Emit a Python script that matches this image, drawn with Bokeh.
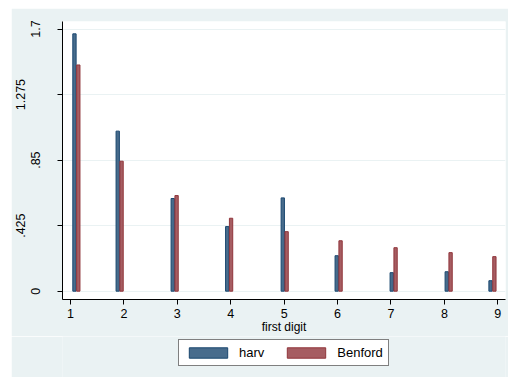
from bokeh.plotting import figure
from bokeh.models import (Range1d, FixedTicker, LinearAxis, Legend, LegendItem,
                          ColumnDataSource, Spacer)
from bokeh.layouts import column, row
from bokeh.embed import file_html
from bokeh.resources import INLINE
import numpy as np

# ---- data ----
digits = [1, 2, 3, 4, 5, 6, 7, 8, 9]
# group positions on the x scale
group_pos = [1.11, 1.92, 2.95, 3.97, 5.01, 6.02, 7.05, 8.08, 8.90]
harv = [1.669, 1.038, 0.601, 0.419, 0.605, 0.230, 0.120, 0.126, 0.068]
benford = [1.467, 0.843, 0.620, 0.473, 0.386, 0.327, 0.282, 0.250, 0.224]
y_ticks = [0, 0.425, 0.85, 1.275, 1.7]
y_tick_labels = ["0", ".425", ".85", "1.275", "1.7"]
x_ticks = digits
x_title = "first digit"
series_names = ["harv", "Benford"]

FONT = "Liberation Sans"
BG = "#EAF2F3"
BLUE_LINE, BLUE_FILL = "#1A476F", "#486C8C"
RED_LINE, RED_FILL = "#90353B", "#A65D62"

bw = 0.062
gp = np.array(group_pos)
src = ColumnDataSource(dict(xh=gp - bw / 2 - 0.005, xb=gp + bw / 2 + 0.005,
                            harv=harv, benford=benford))

p = figure(width=497, height=328, output_backend="svg", toolbar_location=None,
           x_range=Range1d(0.85, 9.144), y_range=Range1d(-0.054, 1.749),
           min_border_left=0, min_border_right=3, min_border_top=13,
           min_border_bottom=37)
p.border_fill_color = BG
p.background_fill_color = "white"
p.outline_line_color = None

r1 = p.vbar(x="xh", top="harv", bottom=0, width=bw, source=src,
            fill_color=BLUE_FILL, line_color=BLUE_LINE, line_width=1)
r2 = p.vbar(x="xb", top="benford", bottom=0, width=bw, source=src,
            fill_color=RED_FILL, line_color=RED_LINE, line_width=1)

# grid
p.xgrid.visible = False
p.ygrid.ticker = FixedTicker(ticks=y_ticks)
p.ygrid.grid_line_color = BG
p.ygrid.grid_line_width = 1

# x axis
xa = p.xaxis[0]
xa.ticker = FixedTicker(ticks=x_ticks)
xa.axis_label = x_title
xa.axis_label_text_font = FONT
xa.axis_label_text_font_style = "normal"
xa.axis_label_text_font_size = "12px"
xa.axis_label_standoff = -1
xa.major_label_text_font = FONT
xa.major_label_text_font_size = "12.5px"
xa.major_label_standoff = 4
xa.major_tick_out = 5
xa.major_tick_in = 0
xa.minor_tick_line_color = None
xa.axis_line_color = "black"
xa.major_tick_line_color = "black"
xa.major_label_text_color = "black"
xa.axis_label_text_color = "black"

# inner y axis (alternate labels: 0, .85, 1.7)
ya = p.yaxis[0]
ya.ticker = FixedTicker(ticks=y_ticks)
ya.major_label_overrides = {t: (lab if i % 2 == 0 else "")
                            for i, (t, lab) in enumerate(zip(y_ticks, y_tick_labels))}
ya.major_label_orientation = "vertical"
ya.major_label_text_font = FONT
ya.major_label_text_font_size = "12.5px"
ya.major_label_standoff = 17
ya.major_tick_out = 5
ya.major_tick_in = 0
ya.minor_tick_line_color = None
ya.axis_line_color = "black"
ya.major_tick_line_color = "black"
ya.major_label_text_color = "black"

# outer y axis (alternate labels: .425, 1.275)
odd_ticks = [t for i, t in enumerate(y_ticks) if i % 2 == 1]
ya2 = LinearAxis(ticker=FixedTicker(ticks=odd_ticks))
ya2.major_label_overrides = {t: lab for i, (t, lab) in enumerate(zip(y_ticks, y_tick_labels))
                             if i % 2 == 1}
ya2.major_label_orientation = "vertical"
ya2.major_label_text_font = FONT
ya2.major_label_text_font_size = "12.5px"
ya2.major_label_standoff = 3
ya2.major_tick_out = 0
ya2.major_tick_in = 0
ya2.major_tick_line_color = None
ya2.minor_tick_line_color = None
ya2.axis_line_color = None
ya2.major_label_text_color = "black"
p.add_layout(ya2, "left")

# legend strip (separate figure, same background, frame aligned with the plot's)
lf = figure(width=497, height=41, output_backend="svg", toolbar_location=None,
            x_range=Range1d(0, 1), y_range=Range1d(0, 1),
            min_border_left=51, min_border_right=3, min_border_top=0,
            min_border_bottom=0, x_axis_location=None, y_axis_location=None)
lf.border_fill_color = BG
lf.background_fill_color = BG
lf.outline_line_color = None
lf.grid.visible = False
# zero-size key glyphs, hidden beneath the legend box
hidden = ColumnDataSource(dict(x=[0.5], top=[0.55], bottom=[0.55]))
g1 = lf.vbar(x="x", top="top", bottom="bottom", width=0.001, source=hidden,
             fill_color=BLUE_FILL, line_color=BLUE_LINE, line_width=1)
g2 = lf.vbar(x="x", top="top", bottom="bottom", width=0.001, source=hidden,
             fill_color=RED_FILL, line_color=RED_LINE, line_width=1)

legend = Legend(items=[LegendItem(label=series_names[0], renderers=[g1]),
                       LegendItem(label=series_names[1], renderers=[g2])],
                orientation="horizontal", location=(116, 11),
                glyph_width=48, glyph_height=13, label_standoff=7, spacing=18,
                padding=5, margin=0,
                label_text_font=FONT, label_text_font_size="13px",
                label_text_color="black",
                border_line_color="black", border_line_width=1,
                background_fill_color="white", background_fill_alpha=1)
lf.add_layout(legend, "center")

page = column(Spacer(height=8), row(Spacer(width=11), column(p, lf)))
open("out.html", "w").write(file_html(page, INLINE))
